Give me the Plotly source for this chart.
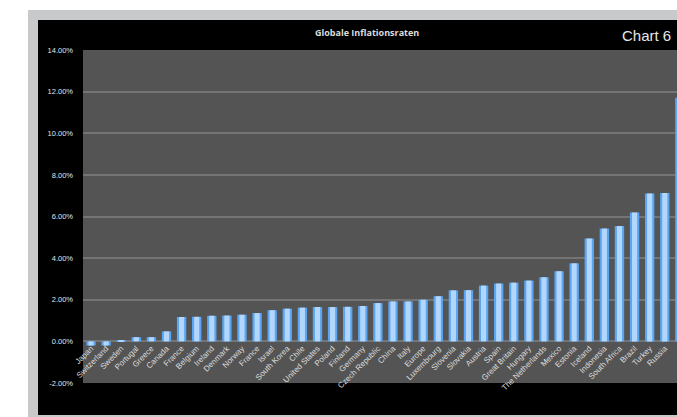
import plotly.graph_objects as go

countries = ["Japan", "Switzerland", "Sweden", "Portugal", "Greece", "Canada", "France",
             "Belgium", "Ireland", "Denmark", "Norway", "France", "Israel", "South Korea",
             "Chile", "United States", "Poland", "Finland", "Germany", "Czech Republic",
             "China", "Italy", "Europe", "Luxembourg", "Slovenia", "Slovakia", "Austria",
             "Spain", "Great Britain", "Hungary", "The Netherlands", "Mexico", "Estonia",
             "Iceland", "Indonesia", "South Africa", "Brazil", "Turkey", "Russia", "India"]
inflation = [-0.20, -0.20, 0.02, 0.20, 0.20, 0.48, 1.17, 1.18, 1.23, 1.24, 1.28, 1.36,
             1.50, 1.57, 1.62, 1.65, 1.65, 1.66, 1.70, 1.84, 1.92, 1.92, 2.00, 2.17,
             2.45, 2.46, 2.68, 2.78, 2.82, 2.92, 3.08, 3.37, 3.75, 4.94, 5.42, 5.54,
             6.19, 7.10, 7.13, 11.70]
y_ticks = [-2, 0, 2, 4, 6, 8, 10, 12, 14]
y_tick_labels = ["-2.00%", "0.00%", "2.00%", "4.00%", "6.00%", "8.00%", "10.00%", "12.00%", "14.00%"]
title_text = "Globale Inflationsraten"
chart_label = "Chart 6"

idx = list(range(len(countries)))

W, H = 677, 417
L, R, T, B = 83, 0, 50, 34
pw, ph = W - L - R, H - T - B


def px_x(p):
    return (p - L) / pw


def px_y(p):
    return (H - B - p) / ph


fig = go.Figure()
fig.add_trace(go.Bar(x=idx, y=inflation, width=0.62, marker=dict(color="#5aa6f2", line=dict(width=0)),
                     hoverinfo="skip"))
fig.add_trace(go.Bar(x=idx, y=inflation, width=0.34, marker=dict(color="#b3d6fc", line=dict(width=0)),
                     hoverinfo="skip"))

shapes = [
    dict(type="rect", xref="paper", yref="paper", x0=px_x(28), x1=px_x(W + 5), y0=px_y(H + 5), y1=px_y(10),
         fillcolor="#c8c9ca", line=dict(width=0), layer="below"),
    dict(type="rect", xref="paper", yref="paper", x0=px_x(38), x1=px_x(W + 5), y0=px_y(415), y1=px_y(20),
         fillcolor="#000000", line=dict(width=0), layer="below"),
    dict(type="rect", xref="paper", yref="paper", x0=0, x1=1, y0=0, y1=1,
         fillcolor="#545454", line=dict(width=0), layer="below"),
]

fig.update_layout(
    width=W, height=H,
    margin=dict(l=L, r=R, t=T, b=B, pad=0),
    paper_bgcolor="#ffffff",
    plot_bgcolor="#545454",
    barmode="overlay",
    showlegend=False,
    shapes=shapes,
    annotations=[
        dict(text="<b>" + title_text + "</b>", xref="paper", yref="paper", x=px_x(367), y=px_y(33),
             xanchor="center", yanchor="middle", showarrow=False,
             font=dict(family="Open Sans, Lato, sans-serif", size=9, color="#dcdcdc")),
        dict(text=chart_label, xref="paper", yref="paper", x=px_x(673), y=px_y(35),
             xanchor="right", yanchor="middle", showarrow=False,
             font=dict(family="Liberation Sans, Arial, sans-serif", size=15, color="#e6e6e6")),
    ],
    xaxis=dict(
        range=[-0.53, 38.81], tickmode="array", tickvals=idx, ticktext=countries,
        tickangle=-45, showgrid=False, zeroline=False, showline=False, ticks="",
        anchor="free", position=2 / 16,
        tickfont=dict(family="Liberation Sans, Arial, sans-serif", size=8, color="#dedede"),
    ),
    yaxis=dict(
        range=[-2, 14], tickmode="array", tickvals=y_ticks, ticktext=y_tick_labels,
        showgrid=True, gridcolor="#747474", gridwidth=1.5, zeroline=False, showline=False,
        ticks="", ticklabelstandoff=9,
        tickfont=dict(family="Liberation Sans, Arial, sans-serif", size=7.5, color="#e2e2e2"),
    ),
)

fig.write_html("out.html")
